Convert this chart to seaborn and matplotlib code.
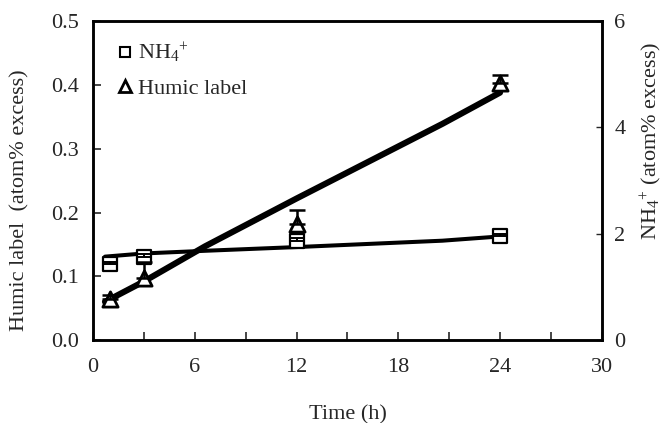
import matplotlib
matplotlib.use("Agg")
from matplotlib import pyplot as plt
import seaborn as sns
import pandas as pd
import numpy as np

# measured points
time_h = [1, 3, 12, 24]
humic = [0.065, 0.098, 0.182, 0.403]
humic_err = [0.005, 0.025, 0.022, 0.012]
nh4 = [1.44, 1.57, 1.86, 1.95]
nh4_err = [0.03, 0.05, 0.06, 0.05]

# fitted curves
fit_time = [0.7, 3, 6.6, 12, 20.6, 24]
humic_fit = [0.060, 0.092, 0.147, 0.222, 0.339, 0.388]
nh4_fit = [1.57, 1.63, 1.68, 1.75, 1.87, 1.95]

sns.set_style("ticks")
plt.rcParams['font.family'] = ['Liberation Serif', 'DejaVu Serif']
plt.rcParams['mathtext.fontset'] = 'custom'
plt.rcParams['mathtext.rm'] = 'Liberation Serif'
plt.rcParams['mathtext.it'] = 'Liberation Serif:italic'

df_pts = pd.DataFrame({"t": time_h, "humic": humic, "nh4": nh4})
df_fit = pd.DataFrame({"t": fit_time, "humic": humic_fit, "nh4": nh4_fit})

fig = plt.figure(figsize=(6.65, 4.23), dpi=100)
ax = fig.add_axes([0.140, 0.196, 0.765, 0.754])
ax2 = ax.twinx()

# NH4+ on right axis (drawn below the humic series)
ax2.set_zorder(ax.get_zorder() - 1)
ax.patch.set_visible(False)
sns.lineplot(ax=ax2, data=df_fit, x="t", y="nh4", color="black", lw=2.9)
sns.scatterplot(ax=ax2, data=df_pts, x="t", y="nh4", marker="s", s=90,
                facecolor="white", edgecolor="black", linewidth=1.6, zorder=4)
ax2.errorbar(time_h, nh4, yerr=[np.zeros(4), nh4_err], fmt="none",
             ecolor="black", elinewidth=1.4, capsize=5, capthick=1.4,
             zorder=5)

# humic label on left axis
sns.lineplot(ax=ax, data=df_fit, x="t", y="humic", color="black", lw=4.4)
sns.scatterplot(ax=ax, data=df_pts, x="t", y="humic", marker="^", s=120,
                facecolor="white", edgecolor="black", linewidth=2.0, zorder=4)
ax.errorbar(time_h, humic, yerr=[np.zeros(4), humic_err], fmt="none",
            ecolor="black", elinewidth=1.8, capsize=6, capthick=1.8, zorder=5)

ax.set_xlim(0, 30)
ax.set_ylim(0, 0.5)
ax2.set_ylim(0, 6)
ax.set_xticks(np.arange(0, 31, 6))
ax.set_xticks(np.arange(3, 30, 6), minor=True)
ax.set_yticks(np.arange(0, 0.51, 0.1))
ax.set_yticklabels(["0.0", "0.1", "0.2", "0.3", "0.4", "0.5"])
ax2.set_yticks([0, 2, 4, 6])

ax.tick_params(axis="both", which="both", direction="in", length=6, width=1.2,
               labelsize=16)
ax.tick_params(axis="x", which="both", pad=13)
ax.tick_params(axis="y", pad=10)
ax2.tick_params(axis="y", direction="in", length=4, width=1.0, labelsize=16,
                pad=9)

for a in (ax, ax2):
    for sp in a.spines.values():
        sp.set_linewidth(1.8)
        sp.set_color("black")

ax.set_xlabel("Time (h)", fontsize=16, labelpad=20)
ax.set_ylabel("Humic label  (atom% excess)", fontsize=16)
ax.yaxis.set_label_coords(-0.126, 0.44)
ax2.set_ylabel("NH$_4$$^{+}$ (atom% excess)", fontsize=16)
ax2.yaxis.set_label_coords(1.072, 0.625)

# legend with markers only
h_sq = plt.Line2D([], [], ls="none", marker="s", ms=7, mfc="white",
                  mec="black", mew=1.5)
h_tr = plt.Line2D([], [], ls="none", marker="^", ms=8, mfc="white",
                  mec="black", mew=2)
ax.legend([h_sq, h_tr], ["NH$_4$$^{+}$", "Humic label"], loc="upper left",
          frameon=False, fontsize=16, handlelength=0.6, handletextpad=0.3,
          labelspacing=0.6, bbox_to_anchor=(0.01, 1.0))

fig.savefig("out.png", dpi=100)
